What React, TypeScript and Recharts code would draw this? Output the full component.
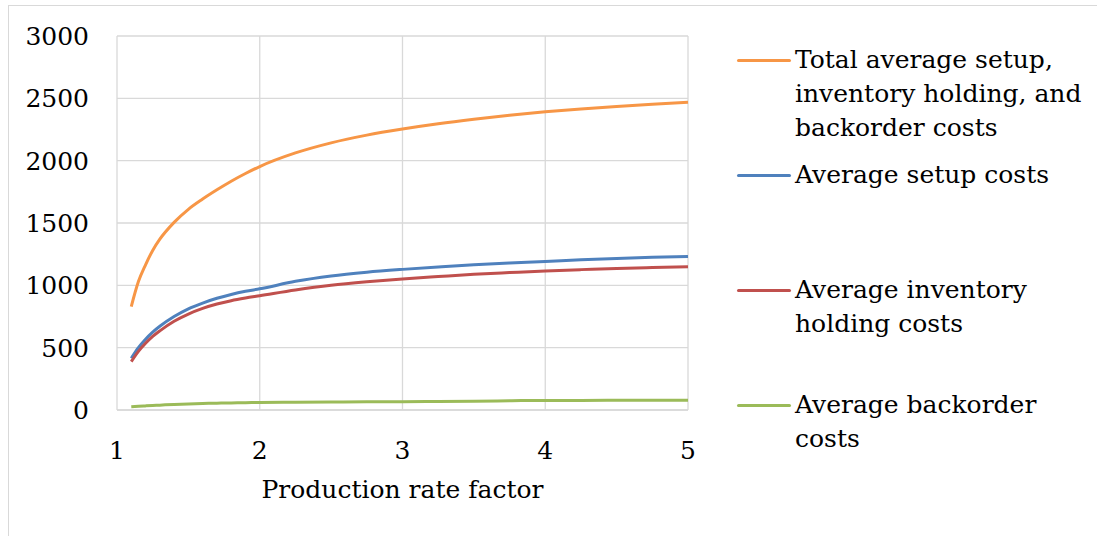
import { LineChart, Line, XAxis, YAxis, CartesianGrid, Legend } from "recharts";

// production rate factor (x) and the four cost series read at those points
const rateFactor = [1.1, 1.15, 1.2, 1.25, 1.3, 1.4, 1.5, 1.6, 1.7, 1.8, 1.9, 2.0, 2.25, 2.5, 2.75, 3.0, 3.25, 3.5, 3.75, 4.0, 4.25, 4.5, 4.75, 5.0];
const totalCosts = [830, 1030, 1165, 1280, 1370, 1505, 1610, 1692, 1766, 1835, 1897, 1953, 2062, 2143, 2205, 2254, 2296, 2332, 2364, 2392, 2415, 2435, 2453, 2468];
const setupCosts = [415, 500, 568, 625, 672, 750, 812, 858, 896, 927, 952, 972, 1032, 1075, 1105, 1128, 1148, 1166, 1180, 1192, 1205, 1216, 1225, 1232];
const holdingCosts = [388, 470, 535, 590, 635, 712, 770, 815, 850, 877, 898, 916, 962, 1000, 1028, 1051, 1070, 1088, 1102, 1115, 1126, 1136, 1143, 1149];
const backorderCosts = [26, 30, 33, 36, 39, 45, 49, 52, 55, 57, 59, 60, 62, 64, 66, 67, 69, 71, 74, 77, 77, 78, 78, 78];

const xTicks = [1, 2, 3, 4, 5];
const yTicks = [0, 500, 1000, 1500, 2000, 2500, 3000];

const series = [
  { key: "total", name: "Total average setup, inventory holding, and backorder costs", color: "#F79646" },
  { key: "setup", name: "Average setup costs", color: "#4F81BD" },
  { key: "holding", name: "Average inventory holding costs", color: "#C0504D" },
  { key: "backorder", name: "Average backorder costs", color: "#9BBB59" },
];

const data = rateFactor.map((x, i) => ({
  x,
  total: totalCosts[i],
  setup: setupCosts[i],
  holding: holdingCosts[i],
  backorder: backorderCosts[i],
}));

const FONT = "'DejaVu Serif', serif";
const GRID = "#D9D9D9";
const FONT_SIZE = 25;

// legend keeps the series order (total first), one 115px row per entry
function LegendList() {
  return (
    <div style={{ fontFamily: FONT, fontSize: FONT_SIZE, color: "#000" }}>
      {series.map((s) => (
        <div key={s.key} style={{ display: "flex", height: 115 }}>
          <div style={{ width: 54, height: 3, marginTop: 15.5, background: s.color, borderRadius: 2, flexShrink: 0 }} />
          <div style={{ marginLeft: 4, width: 300, lineHeight: "34px" }}>{s.name}</div>
        </div>
      ))}
    </div>
  );
}

export default function App() {
  return (
    <div style={{ position: "absolute", left: 0, top: 0, width: 1097, height: 536, background: "#fff", fontFamily: FONT }}>
      <div
        style={{
          position: "absolute",
          left: 8,
          top: 5,
          right: 0,
          bottom: 0,
          borderTop: `1.5px solid ${GRID}`,
          borderLeft: `1.5px solid ${GRID}`,
        }}
      />
      <LineChart width={1097} height={536} data={data} margin={{ top: 36, right: 409, bottom: 36, left: 0 }}>
        <CartesianGrid stroke={GRID} strokeWidth={1.3} />
        <XAxis
          dataKey="x"
          type="number"
          domain={[1, 5]}
          ticks={xTicks}
          height={90}
          tickSize={0}
          tickMargin={31}
          axisLine={{ stroke: GRID, strokeWidth: 1.5 }}
          tickLine={false}
          tick={{ fill: "#000", fontSize: FONT_SIZE, fontFamily: FONT }}
          label={{ value: "Production rate factor", position: "insideTop", offset: 70, fill: "#000", fontSize: FONT_SIZE, fontFamily: FONT }}
        />
        <YAxis
          type="number"
          domain={[0, 3000]}
          ticks={yTicks}
          width={117}
          tickSize={0}
          tickMargin={28}
          axisLine={false}
          tickLine={false}
          tick={{ fill: "#000", fontSize: FONT_SIZE, fontFamily: FONT }}
        />
        {series.map((s) => (
          <Line
            key={s.key}
            type="monotone"
            dataKey={s.key}
            name={s.name}
            stroke={s.color}
            strokeWidth={3}
            dot={false}
            isAnimationActive={false}
          />
        ))}
        <Legend
          layout="horizontal"
          verticalAlign="middle"
          align="center"
          content={LegendList}
          wrapperStyle={{ left: 737, top: 43, width: 360 }}
        />
      </LineChart>
    </div>
  );
}
